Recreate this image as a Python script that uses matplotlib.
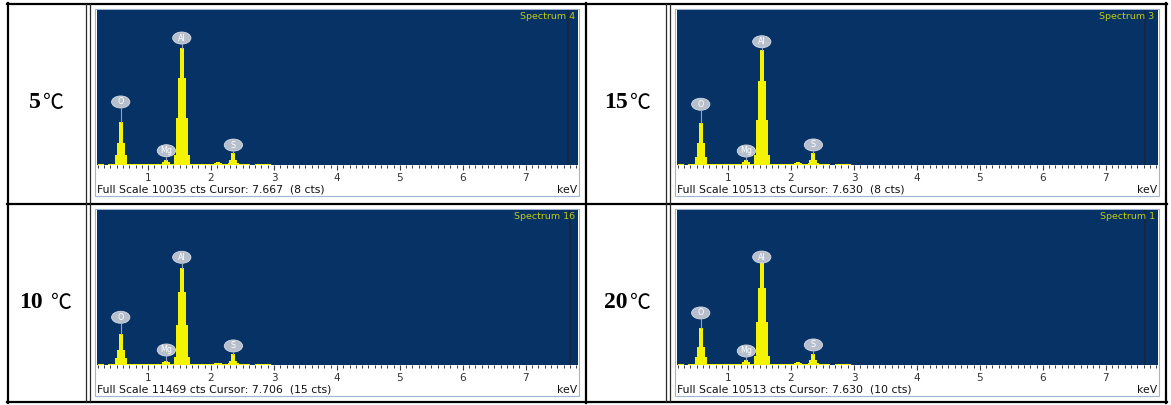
import numpy as np
import matplotlib.pyplot as plt
from matplotlib.lines import Line2D
from matplotlib.patches import Rectangle, Ellipse
from matplotlib.ticker import MultipleLocator

W, H = 1171, 405

# panels in reading order: top-left, top-right, bottom-left, bottom-right
temps = ["5", "15", "10", "20"]
spectra = ["Spectrum 4", "Spectrum 3", "Spectrum 16", "Spectrum 1"]
full_scale = [10035, 10513, 11469, 10513]
cursor_kev = [7.667, 7.630, 7.706, 7.630]
cursor_cts = [8, 8, 15, 10]

elements = ["O", "Mg", "Al", "S"]
element_kev = [0.565, 1.29, 1.535, 2.355]
bump_kev = 2.11

# channel heights (counts), from the peak centre outwards
o_steps = [[2780, 1420, 650], [2830, 1470, 540], [2290, 1110, 520], [2500, 1250, 560]]
mg_steps = [[320, 200, 90], [330, 200, 100], [300, 190, 90], [310, 190, 90]]
al_steps = [[7570, 5630, 3040, 650], [7800, 5700, 3050, 680],
            [7160, 5420, 2960, 610], [6900, 5200, 2900, 620]]
s_steps = [[780, 320, 130], [810, 340, 140], [790, 330, 130], [760, 320, 130]]
bump_steps = [[190, 150, 90], [200, 140, 80], [170, 130, 70], [180, 130, 70]]

# height of the element tags (counts)
o_label = [4080, 4120, 3530, 3530]
mg_label = [925, 950, 1110, 950]
al_label = [8220, 8360, 7970, 7320]
s_label = [1290, 1360, 1410, 1360]

# low background along the baseline
bg_edges = [0.20, 0.30, 0.36, 2.62, 2.70, 2.96]
bg_counts = [70, 0, 70, 0, 70]

CH = 0.031
XMIN, XMAX = 0.18, 7.83
BLUE = "#063266"
YELLOW = "#f4f400"


def fig_xy(x, y):
    return x / W, 1 - y / H


def vline(fig, x, y0, y1, lw, color="black"):
    fig.add_artist(Line2D([x / W, x / W], [1 - y0 / H, 1 - y1 / H], color=color, lw=lw))


def hline(fig, y, x0, x1, lw, color="black"):
    fig.add_artist(Line2D([x0 / W, x1 / W], [1 - y / H, 1 - y / H], color=color, lw=lw))


def peak(ax, centre, steps):
    n = len(steps)
    vals = list(steps[::-1]) + list(steps)
    edges = centre + CH * np.arange(-n, n + 1)
    ax.stairs(vals, edges, fill=True, color=YELLOW, lw=0)


def tag(ax, x, y, top, name, fs):
    h = 12 * fs / 155
    ax.plot([x, x], [top, y - h / 2], color="#9aa3b3", lw=0.8)
    ax.add_patch(Ellipse((x, y), 0.29, h, fc="#b7bfcd", ec="#d8dde6", lw=0.6))
    ax.text(x, y, name, ha="center", va="center", color="white", fontsize=5.8)


fig = plt.figure(figsize=(W / 100, H / 100), dpi=100)

frames = [(95, 9), (675, 9), (95, 209), (675, 209)]
num_right = [41, 627.5, 43, 627.5]
deg_left = [43, 630, 51.5, 630]
label_y = [103, 103, 303, 303]

for i, (fx0, fy0) in enumerate(frames):
    fs = full_scale[i]
    fig.add_artist(Rectangle(fig_xy(fx0, fy0 + 187), 484 / W, 187 / H, zorder=-1,
                             transform=fig.transFigure, fc="white", ec="#9fb4d0", lw=0.8))
    bx0, bx1 = fx0 + 1.5, fx0 + 483
    by0, by1 = fy0 + 1, fy0 + 156
    ax = fig.add_axes([bx0 / W, 1 - by1 / H, (bx1 - bx0) / W, (by1 - by0) / H])
    ax.set_facecolor(BLUE)
    ax.set_xlim(XMIN, XMAX)
    ax.set_ylim(0, fs)
    for sp in ax.spines.values():
        sp.set_visible(False)

    ax.stairs(bg_counts, bg_edges, fill=True, color=YELLOW, lw=0)
    peak(ax, element_kev[0], o_steps[i])
    peak(ax, element_kev[1], mg_steps[i])
    peak(ax, element_kev[2], al_steps[i])
    peak(ax, element_kev[3], s_steps[i])
    peak(ax, bump_kev, bump_steps[i])

    tag(ax, element_kev[0], o_label[i], o_steps[i][0], "O", fs)
    tag(ax, element_kev[1], mg_label[i], mg_steps[i][0], "Mg", fs)
    tag(ax, element_kev[2], al_label[i], al_steps[i][0], "Al", fs)
    tag(ax, element_kev[3], s_label[i], s_steps[i][0], "S", fs)

    ax.axvline(cursor_kev[i], color="#1b2538", lw=1.2)
    ax.text(0.993, 0.985, spectra[i], transform=ax.transAxes, ha="right", va="top",
            color="#c2cb14", fontsize=6.8)

    ax.set_xticks(range(1, 8))
    ax.xaxis.set_minor_locator(MultipleLocator(0.1))
    ax.set_yticks([])
    ax.tick_params(axis="x", which="major", direction="out", length=3.5, width=0.8,
                   color="#3a3a3a", labelsize=7.5, labelcolor="#333333", pad=2.5)
    ax.tick_params(axis="x", which="minor", direction="out", length=2, width=0.7,
                   color="#3a3a3a")

    fig.text(*fig_xy(fx0 + 2, fy0 + 181),
             f"Full Scale {fs} cts Cursor: {cursor_kev[i]:.3f}  ({cursor_cts[i]} cts)",
             ha="left", va="center", fontsize=7.8, color="#111111")
    fig.text(*fig_xy(fx0 + 482, fy0 + 181), "keV", ha="right", va="center",
             fontsize=7.8, color="#111111")

    fig.text(*fig_xy(num_right[i], label_y[i]), temps[i], ha="right", va="center",
             fontsize=17, fontweight="bold", family="Liberation Serif")
    fig.text(*fig_xy(deg_left[i], label_y[i]), "℃", ha="left", va="center",
             fontsize=15, family=["Noto Sans CJK SC", "DejaVu Sans"])

# table grid
hline(fig, 3.5, 6.5, 1166.5, 1.6)
hline(fig, 401.5, 6.5, 1166.5, 1.6)
hline(fig, 203.5, 6.5, 1166.5, 1.6)
vline(fig, 7.5, 2.5, 402.5, 1.6)
vline(fig, 1165.5, 2.5, 402.5, 1.6)
vline(fig, 585.5, 2.5, 402.5, 1.6)
for x in (86, 89.5, 666, 669.5):
    vline(fig, x, 3.5, 401.5, 0.9, color="#2a2a2a")

fig.savefig("out.png", dpi=100)
